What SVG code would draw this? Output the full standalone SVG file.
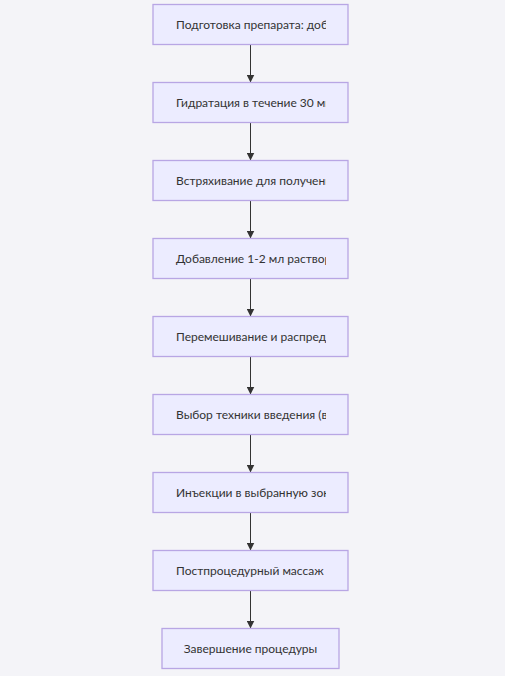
<svg xmlns="http://www.w3.org/2000/svg" width="506" height="689" viewBox="0 0 506 689">
<style>
.bg{fill:#f4f4f8}
.node rect{fill:#ececff;stroke:#b8a6e4;stroke-width:1.3}
.node text{font-family:Lato,"Open Sans",sans-serif;font-size:12px;fill:#333}
.edge{stroke:#333;stroke-width:1;fill:none}
</style>
<defs>
<marker id="arr" viewBox="0 0 10 10" refX="10" refY="5" markerWidth="8" markerHeight="8" markerUnits="userSpaceOnUse" orient="auto">
<path d="M0,0 L10,5 L0,10 z" fill="#333"/>
</marker>
<clipPath id="clip"><rect x="170" y="0" width="156" height="689"/></clipPath>
</defs>
<rect class="bg" x="0" y="0" width="505" height="676"/>
<g id="edges">
<line class="edge" x1="250.5" y1="44.5" x2="250.5" y2="82.5" marker-end="url(#arr)"/>
<line class="edge" x1="250.5" y1="122.5" x2="250.5" y2="160.5" marker-end="url(#arr)"/>
<line class="edge" x1="250.5" y1="200.5" x2="250.5" y2="238.5" marker-end="url(#arr)"/>
<line class="edge" x1="250.5" y1="278.5" x2="250.5" y2="316.5" marker-end="url(#arr)"/>
<line class="edge" x1="250.5" y1="356.5" x2="250.5" y2="394.5" marker-end="url(#arr)"/>
<line class="edge" x1="250.5" y1="434.5" x2="250.5" y2="472.5" marker-end="url(#arr)"/>
<line class="edge" x1="250.5" y1="512.5" x2="250.5" y2="550.5" marker-end="url(#arr)"/>
<line class="edge" x1="250.5" y1="590.5" x2="250.5" y2="628.5" marker-end="url(#arr)"/>
</g>
<g id="n1" class="node"><rect x="153" y="4.5" width="195" height="40"/><text x="176" y="29" clip-path="url(#clip)">Подготовка препарата: добавление</text></g>
<g id="n2" class="node"><rect x="153" y="82.5" width="195" height="40"/><text x="176" y="107" clip-path="url(#clip)">Гидратация в течение 30 минут</text></g>
<g id="n3" class="node"><rect x="153" y="160.5" width="195" height="40"/><text x="176" y="185" clip-path="url(#clip)">Встряхивание для получения</text></g>
<g id="n4" class="node"><rect x="153" y="238.5" width="195" height="40"/><text x="176" y="263" clip-path="url(#clip)">Добавление 1-2 мл раствора</text></g>
<g id="n5" class="node"><rect x="153" y="316.5" width="195" height="40"/><text x="176" y="341" clip-path="url(#clip)">Перемешивание и распределение</text></g>
<g id="n6" class="node"><rect x="153" y="394.5" width="195" height="40"/><text x="176" y="419" clip-path="url(#clip)">Выбор техники введения (в</text></g>
<g id="n7" class="node"><rect x="153" y="472.5" width="195" height="40"/><text x="176" y="497" clip-path="url(#clip)">Инъекции в выбранную зону</text></g>
<g id="n8" class="node"><rect x="153" y="550.5" width="195" height="40"/><text x="176" y="575" clip-path="url(#clip)">Постпроцедурный массаж и</text></g>
<g id="n9" class="node"><rect x="162" y="628.5" width="177" height="40"/><text x="250.5" y="653" text-anchor="middle">Завершение процедуры</text></g>
</svg>
